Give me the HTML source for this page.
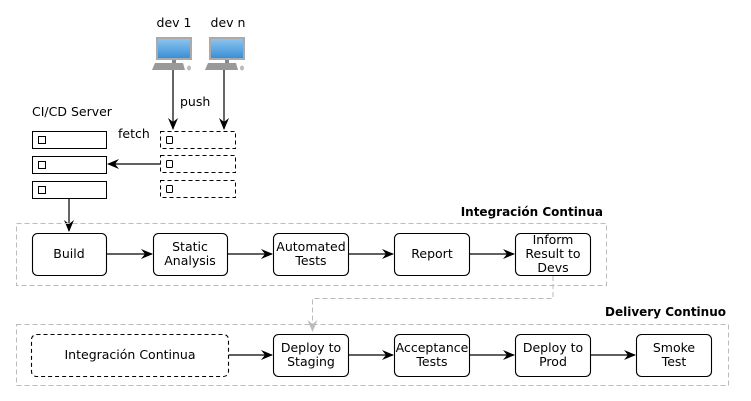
<!DOCTYPE html>
<html><head><meta charset="utf-8"><style>
html,body{margin:0;padding:0;background:#fff;width:751px;height:401px;overflow:hidden}
text{font-family:"DejaVu Sans","Liberation Sans",sans-serif;font-size:12.5px;fill:#000}
</style></head><body>
<svg width="751" height="401" viewBox="0 0 751 401" xmlns="http://www.w3.org/2000/svg">
<defs>
<marker id="a" markerWidth="12" markerHeight="10" refX="11" refY="5" orient="auto" markerUnits="userSpaceOnUse"><path d="M0,0 L12,5 L0,10 L4,5 Z" fill="#000"/></marker>
<marker id="g" markerWidth="12" markerHeight="10" refX="11" refY="5" orient="auto" markerUnits="userSpaceOnUse"><path d="M0,0 L12,5 L0,10 L4,5 Z" fill="#bbb"/></marker>
<linearGradient id="scr" x1="0" y1="0" x2="0" y2="1"><stop offset="0" stop-color="#8cc4ef"/><stop offset="1" stop-color="#3a8fd6"/></linearGradient>
</defs>
<text x="174" y="27" text-anchor="middle">dev 1</text>
<text x="228" y="27" text-anchor="middle">dev n</text>
<g id="pc">
<rect x="156" y="37" width="36" height="23" fill="#aaa"/>
<rect x="158" y="39" width="32" height="19" fill="url(#scr)"/>
<rect x="172" y="60" width="4" height="4" fill="#888"/>
<path d="M155,63 L183,63 L185,70 L152,70 Z" fill="#999"/>
<ellipse cx="189" cy="68" rx="2" ry="2.5" fill="#bbb"/>
</g>
<use href="#pc" x="53"/>
<line x1="173" y1="70" x2="173" y2="129" stroke="#000" stroke-width="1.2" marker-end="url(#a)"/>
<line x1="224" y1="70" x2="224" y2="129" stroke="#000" stroke-width="1.2" marker-end="url(#a)"/>
<text x="180" y="106">push</text>
<text x="118" y="138">fetch</text>
<text x="32" y="116">CI/CD Server</text>
<g fill="#fff" stroke="#000">
<rect x="160.5" y="131.5" width="75" height="17" stroke-dasharray="4,3"/>
<rect x="160.5" y="155.5" width="75" height="17" stroke-dasharray="4,3"/>
<rect x="160.5" y="180.5" width="75" height="17" stroke-dasharray="4,3"/>
<rect x="166.5" y="136.5" width="6" height="7" rx="1"/>
<rect x="166.5" y="160.5" width="6" height="7" rx="1"/>
<rect x="166.5" y="185.5" width="6" height="7" rx="1"/>
<rect x="32.5" y="131.5" width="74" height="17"/>
<rect x="32.5" y="156.5" width="74" height="17"/>
<rect x="32.5" y="181.5" width="74" height="17"/>
<rect x="38.5" y="136.5" width="7" height="7"/>
<rect x="38.5" y="161.5" width="7" height="7"/>
<rect x="38.5" y="186.5" width="7" height="7"/>
</g>
<line x1="160" y1="164" x2="108" y2="164" stroke="#000" stroke-width="1.2" marker-end="url(#a)"/>
<line x1="69" y1="199" x2="69" y2="231" stroke="#000" stroke-width="1.2" marker-end="url(#a)"/>
<text x="603" y="216" text-anchor="end" style="font-weight:bold;font-size:12px">Integración Continua</text>
<rect x="16.5" y="223.5" width="590" height="62" fill="none" stroke="#bbb" stroke-dasharray="5,3"/>
<text x="726" y="316" text-anchor="end" style="font-weight:bold;font-size:12px">Delivery Continuo</text>
<rect x="16.5" y="324.5" width="712" height="61" fill="none" stroke="#bbb" stroke-dasharray="5,3"/>
<path d="M553,276 V298.5 H312.5 V331" fill="none" stroke="#bbb" stroke-dasharray="5,3" marker-end="url(#g)"/>
<g fill="#fff" stroke="#000" stroke-width="1.1">
<rect x="32.5" y="233.5" width="74" height="42" rx="5"/>
<rect x="153.5" y="233.5" width="74" height="42" rx="5"/>
<rect x="273.5" y="233.5" width="75" height="42" rx="5"/>
<rect x="394.5" y="233.5" width="75" height="42" rx="5"/>
<rect x="515.5" y="233.5" width="75" height="42" rx="5"/>
<rect x="31.5" y="334.5" width="197" height="42" rx="5" stroke-dasharray="4,3"/>
<rect x="273.5" y="334.5" width="75" height="42" rx="5"/>
<rect x="394.5" y="334.5" width="75" height="42" rx="5"/>
<rect x="515.5" y="334.5" width="75" height="42" rx="5"/>
<rect x="636.5" y="334.5" width="75" height="42" rx="5"/>
</g>
<g stroke="#000" stroke-width="1.2">
<line x1="107" y1="254" x2="152" y2="254" marker-end="url(#a)"/>
<line x1="228" y1="254" x2="272" y2="254" marker-end="url(#a)"/>
<line x1="349" y1="254" x2="393" y2="254" marker-end="url(#a)"/>
<line x1="470" y1="254" x2="514" y2="254" marker-end="url(#a)"/>
<line x1="229" y1="355" x2="272" y2="355" marker-end="url(#a)"/>
<line x1="349" y1="355" x2="393" y2="355" marker-end="url(#a)"/>
<line x1="470" y1="355" x2="514" y2="355" marker-end="url(#a)"/>
<line x1="591" y1="355" x2="635" y2="355" marker-end="url(#a)"/>
</g>
<g text-anchor="middle">
<text x="69" y="258">Build</text>
<text x="190" y="251">Static</text><text x="190" y="265">Analysis</text>
<text x="311" y="251">Automated</text><text x="311" y="265">Tests</text>
<text x="432" y="258">Report</text>
<text x="553" y="244">Inform</text><text x="553" y="258">Result to</text><text x="553" y="272">Devs</text>
<text x="130" y="359">Integración Continua</text>
<text x="311" y="352">Deploy to</text><text x="311" y="366">Staging</text>
<text x="432" y="352">Acceptance</text><text x="432" y="366">Tests</text>
<text x="553" y="352">Deploy to</text><text x="553" y="366">Prod</text>
<text x="674" y="352">Smoke</text><text x="674" y="366">Test</text>
</g>
</svg>
</body></html>
